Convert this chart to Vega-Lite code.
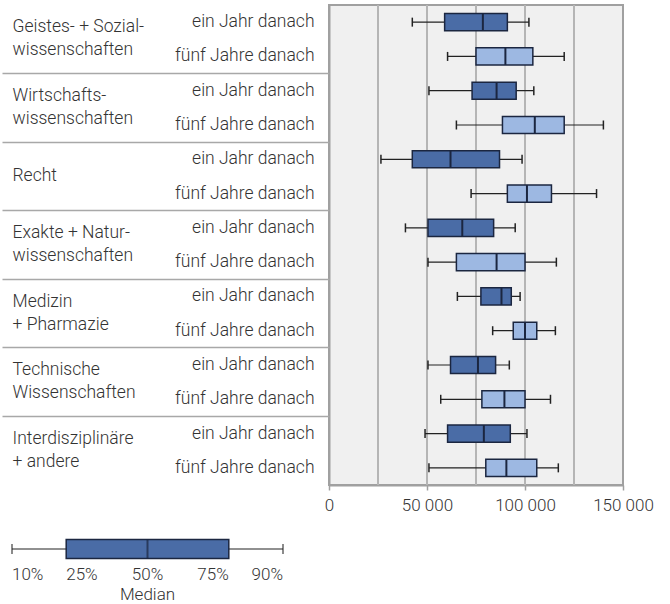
{
  "$schema": "https://vega.github.io/schema/vega-lite/v6.json",
  "padding": {"left": 0, "top": 3, "right": 0, "bottom": 0},
  "config": {"font": "Roboto", "view": {"stroke": null}},
  "datasets": {
    "boxes": [
      {"group": "Geistes- + Sozial-\nwissenschaften", "period": "ein Jahr danach", "row": "Geistes|ein Jahr danach", "p10": 42500, "p25": 59000, "p50": 78500, "p75": 91000, "p90": 102000},
      {"group": "Geistes- + Sozial-\nwissenschaften", "period": "fünf Jahre danach", "row": "Geistes|fünf Jahre danach", "p10": 60500, "p25": 75000, "p50": 90000, "p75": 104000, "p90": 120000},
      {"group": "Wirtschafts-\nwissenschaften", "period": "ein Jahr danach", "row": "Wirtschaft|ein Jahr danach", "p10": 51000, "p25": 73000, "p50": 85500, "p75": 95500, "p90": 104500},
      {"group": "Wirtschafts-\nwissenschaften", "period": "fünf Jahre danach", "row": "Wirtschaft|fünf Jahre danach", "p10": 65000, "p25": 88500, "p50": 105000, "p75": 120000, "p90": 140000},
      {"group": "Recht", "period": "ein Jahr danach", "row": "Recht|ein Jahr danach", "p10": 26500, "p25": 42500, "p50": 62000, "p75": 87000, "p90": 98500},
      {"group": "Recht", "period": "fünf Jahre danach", "row": "Recht|fünf Jahre danach", "p10": 72500, "p25": 91000, "p50": 101000, "p75": 113500, "p90": 136500},
      {"group": "Exakte + Natur-\nwissenschaften", "period": "ein Jahr danach", "row": "Exakte|ein Jahr danach", "p10": 39000, "p25": 50500, "p50": 68000, "p75": 84000, "p90": 95000},
      {"group": "Exakte + Natur-\nwissenschaften", "period": "fünf Jahre danach", "row": "Exakte|fünf Jahre danach", "p10": 50500, "p25": 65000, "p50": 85500, "p75": 100000, "p90": 116000},
      {"group": "Medizin\n+ Pharmazie", "period": "ein Jahr danach", "row": "Medizin|ein Jahr danach", "p10": 65500, "p25": 77500, "p50": 88000, "p75": 93000, "p90": 97500},
      {"group": "Medizin\n+ Pharmazie", "period": "fünf Jahre danach", "row": "Medizin|fünf Jahre danach", "p10": 83500, "p25": 94000, "p50": 100000, "p75": 106000, "p90": 115500},
      {"group": "Technische\nWissenschaften", "period": "ein Jahr danach", "row": "Technische|ein Jahr danach", "p10": 50500, "p25": 62000, "p50": 76000, "p75": 85000, "p90": 92000},
      {"group": "Technische\nWissenschaften", "period": "fünf Jahre danach", "row": "Technische|fünf Jahre danach", "p10": 57000, "p25": 78000, "p50": 89500, "p75": 100000, "p90": 113000},
      {"group": "Interdisziplinäre\n+ andere", "period": "ein Jahr danach", "row": "Interdisz|ein Jahr danach", "p10": 49000, "p25": 60500, "p50": 79000, "p75": 92500, "p90": 101000},
      {"group": "Interdisziplinäre\n+ andere", "period": "fünf Jahre danach", "row": "Interdisz|fünf Jahre danach", "p10": 51000, "p25": 80000, "p50": 90500, "p75": 106000, "p90": 117000}
    ],
    "grid": [{"v": 25000}, {"v": 50000}, {"v": 75000}, {"v": 100000}, {"v": 125000}],
    "legendBox": [{"line": "box", "p10": 0, "p25": 20, "p50": 50, "p75": 80, "p90": 100}],
    "legendText": [
      {"line": "pct", "v": 0, "text": "10%"},
      {"line": "pct", "v": 20, "text": "25%"},
      {"line": "pct", "v": 50, "text": "50%"},
      {"line": "pct", "v": 80, "text": "75%"},
      {"line": "pct", "v": 100, "text": "90%"},
      {"line": "med", "v": 50, "text": "Median"}
    ]
  },
  "vconcat": [
    {
      "width": 294,
      "height": 480,
      "view": {"fill": "#f0f0f0", "stroke": "#a0a0a0", "strokeWidth": 2},
      "layer": [
        {
          "data": {"name": "grid"},
          "mark": {"type": "rule", "color": "#b5b5b5", "strokeWidth": 2},
          "encoding": {
            "x": {"field": "v", "type": "quantitative", "scale": {"domain": [0, 150000], "nice": false},
              "axis": {"values": [0, 50000, 100000, 150000], "grid": false, "title": null, "domainColor": "#a0a0a0", "domainWidth": 2, "tickColor": "#a0a0a0", "tickWidth": 1.5, "tickSize": 5, "labelFontSize": 17, "labelFontWeight": 300, "labelColor": "#333333", "labelFont": "Roboto", "labelPadding": 7, "labelFlush": false, "labelExpr": "replace(format(datum.value, ','), ',', ' ')"}}
          }
        },
        {
          "data": {"name": "boxes"},
          "encoding": {
            "y": {"field": "row", "type": "nominal", "sort": null,
              "scale": {"type": "band", "paddingInner": 0, "paddingOuter": 0},
              "axis": {"orient": "left", "title": null, "ticks": false, "domainColor": "#a0a0a0", "domainWidth": 2, "labelExpr": "split(datum.label, '|')[1]", "labelFontSize": 17.5, "labelFontWeight": 300, "labelColor": "#333333", "labelFont": "Roboto", "labelPadding": 15, "labelLimit": 0}}
          },
          "layer": [
            {
              "mark": {"type": "rule", "color": "#222222", "strokeWidth": 1.2},
              "encoding": {"x": {"field": "p10", "type": "quantitative"}, "x2": {"field": "p90"}}
            },
            {
              "mark": {"type": "tick", "color": "#222222", "thickness": 1.5, "size": 9, "opacity": 1},
              "encoding": {"x": {"field": "p10", "type": "quantitative"}}
            },
            {
              "mark": {"type": "tick", "color": "#222222", "thickness": 1.5, "size": 9, "opacity": 1},
              "encoding": {"x": {"field": "p90", "type": "quantitative"}}
            },
            {
              "mark": {"type": "bar", "height": {"band": 0.5}, "stroke": "#1b2640", "strokeWidth": 1.5, "opacity": 1},
              "encoding": {
                "x": {"field": "p25", "type": "quantitative"}, "x2": {"field": "p75"},
                "color": {"field": "period", "type": "nominal", "scale": {"domain": ["ein Jahr danach", "fünf Jahre danach"], "range": ["#4a6ca6", "#9db8e2"]}, "legend": null}
              }
            },
            {
              "mark": {"type": "tick", "color": "#1b2640", "thickness": 2, "size": 17, "opacity": 1},
              "encoding": {"x": {"field": "p50", "type": "quantitative"}}
            }
          ]
        },
        {
          "data": {"name": "boxes"},
          "mark": {"type": "point", "opacity": 0},
          "encoding": {
            "x": {"field": "p50", "type": "quantitative"},
            "y": {"field": "group", "type": "nominal", "sort": null,
              "scale": {"type": "band", "paddingInner": 0, "paddingOuter": 0},
              "axis": {"orient": "left", "title": null, "domain": false, "bandPosition": 0, "tickSize": 327, "tickColor": "#a8a8a8", "tickWidth": 1.5,
                "tickOpacity": {"condition": {"test": "indexof(datum.value, 'Geistes') >= 0", "value": 0}, "value": 1},
                "labelAlign": "left", "labelBaseline": "middle", "labelPadding": -10,
                "labelOffset": {"condition": {"test": "datum.value == 'Recht'", "value": 0}, "value": -12},
                "labelExpr": "split(datum.label, '\\n')", "labelLineHeight": 23, "labelFontSize": 17.5, "labelFontWeight": 300, "labelColor": "#333333", "labelFont": "Roboto", "labelLimit": 0}}
          }
        }
      ],
      "resolve": {"scale": {"y": "independent"}, "axis": {"y": "independent"}}
    },
    {
      "width": 10,
      "height": 52,
      "layer": [
        {
          "data": {"name": "legendBox"},
          "encoding": {
            "y": {"field": "line", "type": "nominal", "scale": {"type": "point", "domain": ["box", "pct", "med"], "padding": 0}, "axis": null}
          },
          "layer": [
            {
              "mark": {"type": "rule", "color": "#222222", "strokeWidth": 1.2},
              "encoding": {"x": {"field": "p10", "type": "quantitative", "scale": {"domain": [0, 100], "range": [-317, -46], "nice": false, "zero": false}, "axis": null}, "x2": {"field": "p90"}}
            },
            {
              "mark": {"type": "tick", "color": "#222222", "thickness": 1.5, "size": 10},
              "encoding": {"x": {"field": "p10", "type": "quantitative"}}
            },
            {
              "mark": {"type": "tick", "color": "#222222", "thickness": 1.5, "size": 10},
              "encoding": {"x": {"field": "p90", "type": "quantitative"}}
            },
            {
              "mark": {"type": "bar", "height": 19, "fill": "#4a6ca6", "stroke": "#1b2640", "strokeWidth": 1.5},
              "encoding": {"x": {"field": "p25", "type": "quantitative"}, "x2": {"field": "p75"}}
            },
            {
              "mark": {"type": "tick", "color": "#1b2640", "thickness": 2, "size": 19},
              "encoding": {"x": {"field": "p50", "type": "quantitative"}}
            }
          ]
        },
        {
          "data": {"name": "legendText"},
          "transform": [{"filter": "datum.v < 50"}],
          "mark": {"type": "text", "align": "left", "baseline": "middle", "fontSize": 17, "fontWeight": 300, "color": "#333333", "font": "Roboto"},
          "encoding": {"x": {"field": "v", "type": "quantitative"}, "y": {"field": "line", "type": "nominal"}, "text": {"field": "text"}}
        },
        {
          "data": {"name": "legendText"},
          "transform": [{"filter": "datum.v == 50 && datum.line == 'pct'"}],
          "mark": {"type": "text", "align": "center", "baseline": "middle", "fontSize": 17, "fontWeight": 300, "color": "#333333", "font": "Roboto"},
          "encoding": {"x": {"field": "v", "type": "quantitative"}, "y": {"field": "line", "type": "nominal"}, "text": {"field": "text"}}
        },
        {
          "data": {"name": "legendText"},
          "transform": [{"filter": "datum.line == 'med'"}],
          "mark": {"type": "text", "align": "center", "baseline": "middle", "fontSize": 17, "fontWeight": 300, "color": "#333333", "font": "Roboto", "dy": -6},
          "encoding": {"x": {"field": "v", "type": "quantitative"}, "y": {"field": "line", "type": "nominal"}, "text": {"field": "text"}}
        },
        {
          "data": {"name": "legendText"},
          "transform": [{"filter": "datum.v > 50"}],
          "mark": {"type": "text", "align": "right", "baseline": "middle", "fontSize": 17, "fontWeight": 300, "color": "#333333", "font": "Roboto"},
          "encoding": {"x": {"field": "v", "type": "quantitative"}, "y": {"field": "line", "type": "nominal"}, "text": {"field": "text"}}
        }
      ]
    }
  ],
  "spacing": 24
}
